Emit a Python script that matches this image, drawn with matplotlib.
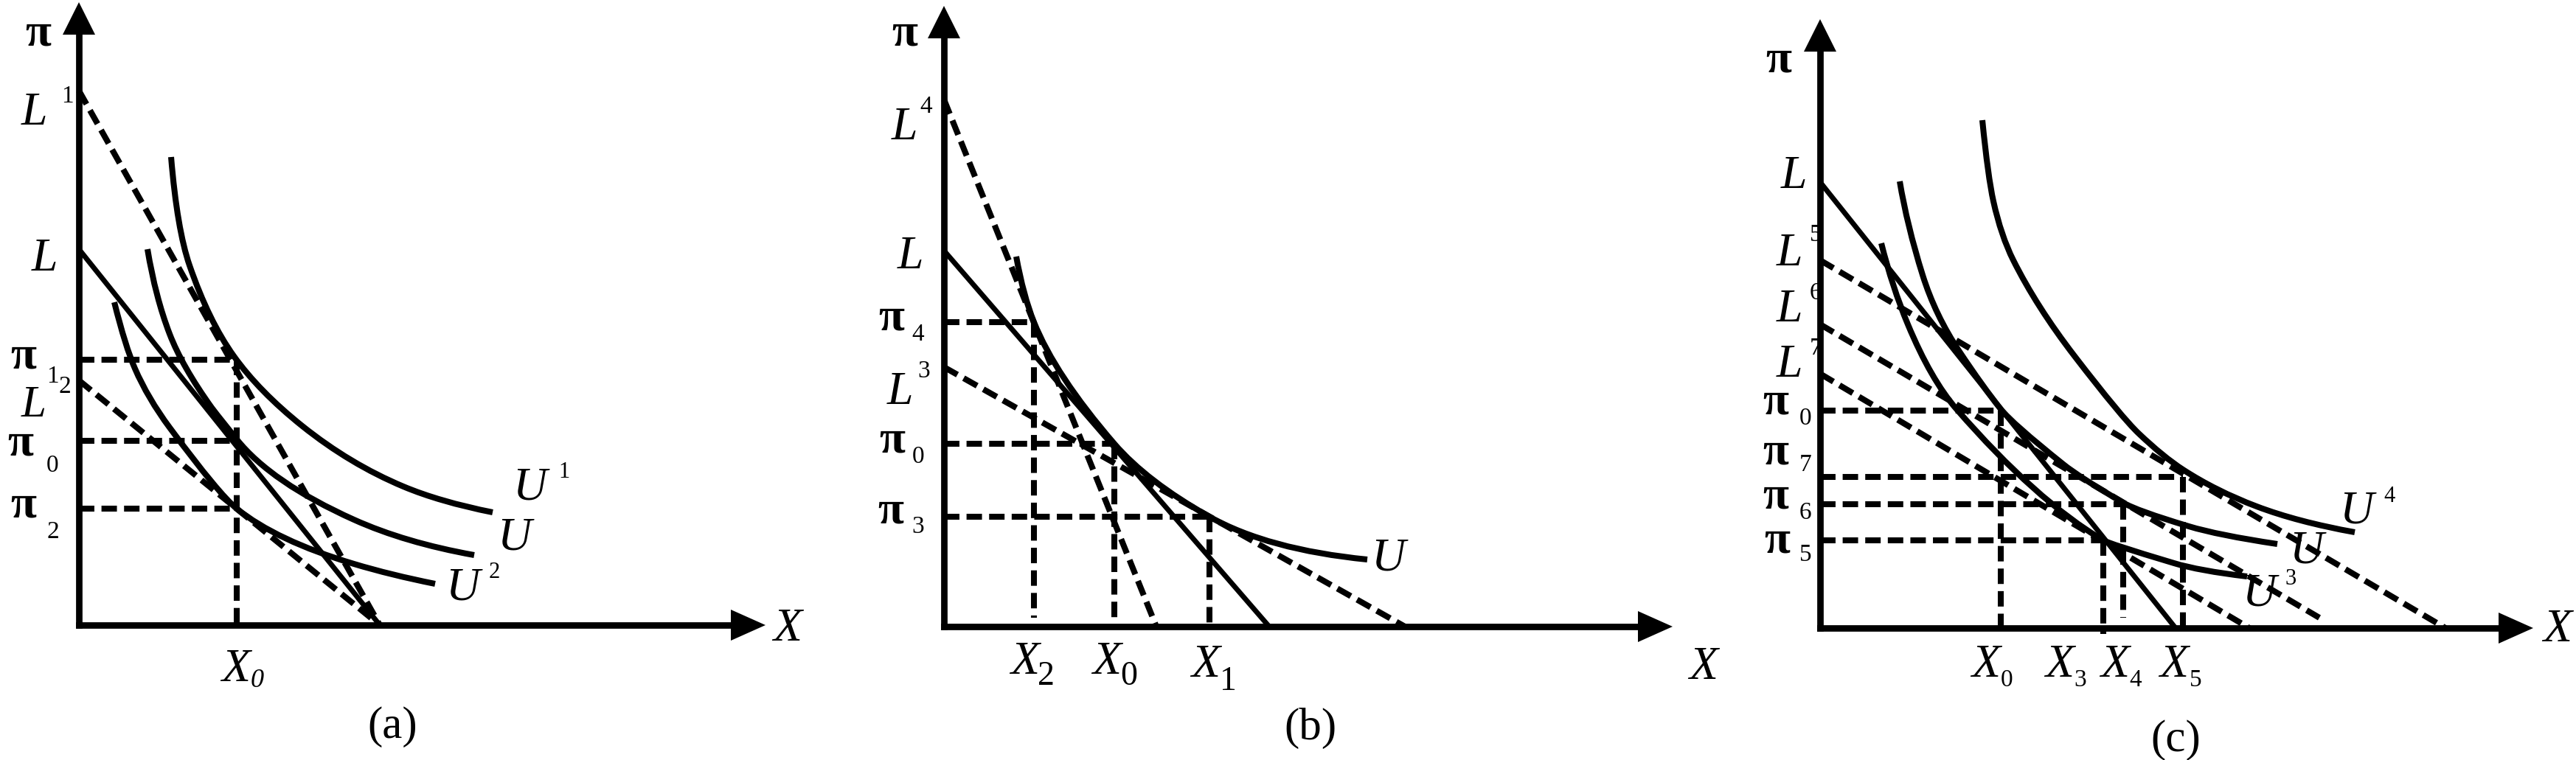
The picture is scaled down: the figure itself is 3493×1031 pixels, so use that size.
import matplotlib
matplotlib.use("Agg")
import matplotlib.pyplot as plt
from matplotlib.path import Path
from matplotlib.patches import PathPatch, Polygon

plt.rcParams['font.family'] = ['Liberation Serif', 'DejaVu Serif']

W, H = 3493, 1031

# ---------------- panel (a) ----------------
a_origin = (107, 848)
a_span = (0, 1150)
a_axis_tip = (931, 845)
a_solid = [[(0, 510), (408, 0)]]                      # L
a_dashed = [[(0, 725), (408, 0)], [(0, 332), (408, 0)]]   # L1, L2
a_x0 = 214
a_pi = [360, 250, 158]                                # pi1, pi0, pi2
a_curves = [
    [(125, 635, -12), (150, 488, -2.9), (210, 365, -1.4), (303, 270, -0.8), (440, 188, -0.42), (561, 153, -0.2)],   # U1
    [(93, 510, -6), (123, 395, -2.6), (180, 295, -1.4), (214, 252, -1.25), (373, 143, -0.45), (536, 95, -0.18)],   # U
    [(48, 438, -4), (76, 348, -2.3), (123, 268, -1.35), (214, 158, -0.81), (373, 83, -0.3), (483, 56, -0.2)],      # U2
]

# ---------------- panel (b) ----------------
b_origin = (1280, 850)
b_span = (1150, 2380)
b_axis_tip = (988, 842)
b_solid = [[(0, 510), (441, 0)]]                      # L
b_dashed = [[(0, 715), (288, 0)], [(0, 352), (625, 0)]]   # L4, L3
b_xs = [122, 231, 360]                                # X2, X0, X1
b_pi = [413, 248, 149]                                # pi4, pi0, pi3
b_vert_bottom = [12, 12, 0]
b_curves = [
    [(98, 502, -5.5), (122, 413, -2.5), (231, 248, -1.16), (360, 149, -0.563), (574, 91, -0.1)],   # U
]

# ---------------- panel (c) ----------------
c_origin = (2468, 852)
c_span = (2380, 3493)
c_axis_tip = (967, 826)
c_solid = [[(0, 605), (482, 0)]]                      # L
c_dashed = [[(0, 499), (848, 0)], [(0, 412), (677, 14)], [(0, 345), (582, 0)]]   # L5, L6, L7
c_xs = [245, 384, 411, 492]                           # X0, X3, X4, X5
c_pi = [295, 119, 168, 205]                           # pi0, pi5, pi6, pi7
c_vert_bottom = [0, -8, 14, 0]
c_curves = [
    [(220, 689, -10), (235, 579, -4.5), (262, 499, -2.0), (345, 369, -1.3), (432, 264, -0.95), (492, 215, -0.65), (592, 165, -0.38), (725, 130, -0.18)],  # U4
    [(108, 606, -6), (139, 479, -3.2), (189, 375, -1.5), (245, 297, -1.25), (330, 222, -0.8), (411, 170, -0.585), (500, 138, -0.3), (620, 114, -0.15)],  # U
    [(83, 522, -4), (119, 412, -2.4), (185, 297, -1.15), (384, 119, -0.593), (480, 88, -0.3), (579, 70, -0.12)],  # U3
]

# labels: (text, x, y, size, style, weight)
a_labels = [
    ('π', -55, 787, 46, 'normal', 'bold'),
    ('L', -61, 679, 46, 'italic', 'normal'), ('1', -16, 709, 24, 'normal', 'normal'),
    ('L', -47, 481, 46, 'italic', 'normal'),
    ('π', -75, 349, 46, 'normal', 'bold'), ('1', -36, 329, 24, 'normal', 'normal'),
    ('L', -61, 283, 44, 'italic', 'normal'), ('2', -19, 315, 24, 'normal', 'normal'),
    ('π', -79, 230, 46, 'normal', 'bold'), ('0', -36, 208, 24, 'normal', 'normal'),
    ('π', -75, 146, 46, 'normal', 'bold'), ('2', -35, 118, 24, 'normal', 'normal'),
    ('X', 213, -76, 46, 'italic', 'normal'), ('0', 242, -84, 26, 'italic', 'normal'),
    ('(a)', 425, -153, 44, 'normal', 'normal'),
    ('X', 961, -21, 46, 'italic', 'normal'),
    ('U', 611, 170, 46, 'italic', 'normal'), ('1', 658, 200, 22, 'normal', 'normal'),
    ('U', 590, 102, 46, 'italic', 'normal'),
    ('U', 520, 34, 46, 'italic', 'normal'), ('2', 563, 64, 22, 'normal', 'normal'),
]
b_labels = [
    ('π', -53, 789, 46, 'normal', 'bold'),
    ('L', -53, 661, 46, 'italic', 'normal'), ('4', -24, 697, 24, 'normal', 'normal'),
    ('L', -46, 486, 46, 'italic', 'normal'),
    ('π', -71, 402, 46, 'normal', 'bold'), ('4', -35, 388, 24, 'normal', 'normal'),
    ('L', -60, 302, 46, 'italic', 'normal'), ('3', -27, 338, 24, 'normal', 'normal'),
    ('π', -70, 236, 46, 'normal', 'bold'), ('0', -35, 222, 24, 'normal', 'normal'),
    ('π', -72, 141, 46, 'normal', 'bold'), ('3', -35, 127, 24, 'normal', 'normal'),
    ('X', 110, -64, 46, 'italic', 'normal'), ('2', 138, -79, 33, 'normal', 'normal'),
    ('X', 221, -64, 46, 'italic', 'normal'), ('0', 251, -79, 33, 'normal', 'normal'),
    ('X', 355, -68, 46, 'italic', 'normal'), ('1', 385, -86, 33, 'normal', 'normal'),
    ('X', 1030, -71, 46, 'italic', 'normal'),
    ('U', 602, 76, 46, 'italic', 'normal'),
    ('(b)', 497, -153, 44, 'normal', 'normal'),
]
c_labels = [
    ('π', -56, 754, 46, 'normal', 'bold'),
    ('L', -35, 597, 46, 'italic', 'normal'),
    ('L', -42, 492, 46, 'italic', 'normal'), ('5', -6, 525, 24, 'normal', 'normal'),
    ('L', -42, 416, 46, 'italic', 'normal'), ('6', -6, 446, 24, 'normal', 'normal'),
    ('L', -42, 341, 46, 'italic', 'normal'), ('7', -6, 371, 24, 'normal', 'normal'),
    ('π', -60, 291, 46, 'normal', 'bold'), ('0', -20, 276, 24, 'normal', 'normal'),
    ('π', -60, 222, 46, 'normal', 'bold'), ('7', -20, 213, 24, 'normal', 'normal'),
    ('π', -60, 163, 46, 'normal', 'bold'), ('6', -20, 148, 24, 'normal', 'normal'),
    ('π', -58, 103, 46, 'normal', 'bold'), ('5', -20, 91, 24, 'normal', 'normal'),
    ('X', 225, -66, 46, 'italic', 'normal'), ('0', 253, -79, 24, 'normal', 'normal'),
    ('X', 325, -66, 46, 'italic', 'normal'), ('3', 353, -79, 24, 'normal', 'normal'),
    ('X', 400, -66, 46, 'italic', 'normal'), ('4', 428, -79, 24, 'normal', 'normal'),
    ('X', 480, -66, 46, 'italic', 'normal'), ('5', 509, -79, 24, 'normal', 'normal'),
    ('X', 1000, -18, 46, 'italic', 'normal'),
    ('U', 727, 143, 46, 'italic', 'normal'), ('4', 772, 171, 22, 'normal', 'normal'),
    ('U', 659, 89, 46, 'italic', 'normal'),
    ('U', 595, 31, 46, 'italic', 'normal'), ('3', 638, 59, 22, 'normal', 'normal'),
    ('(c)', 482, -167, 44, 'normal', 'normal'),
]

AXIS_LW = 6.3
CURVE_LW = 5.8
LINE_LW = 5.0
DASH_LW = 5.8
DASH = (0, (2.6, 1.2))


def curve_path(anchors):
    # piecewise cubic through the anchors, tangent to the given slopes
    verts = [anchors[0][:2]]
    codes = [Path.MOVETO]
    for (x0, y0, s0), (x1, y1, s1) in zip(anchors[:-1], anchors[1:]):
        qx = (y1 - y0 + s0 * x0 - s1 * x1) / (s0 - s1)
        qy = y0 + s0 * (qx - x0)
        c1 = (x0 + 2 / 3 * (qx - x0), y0 + 2 / 3 * (qy - y0))
        c2 = (x1 + 2 / 3 * (qx - x1), y1 + 2 / 3 * (qy - y1))
        verts += [c1, c2, (x1, y1)]
        codes += [Path.CURVE4] * 3
    return Path(verts, codes)


def make_axes(fig, origin, span):
    ox, oy = origin
    x0, x1 = span
    ax = fig.add_axes([x0 / W, 0, (x1 - x0) / W, 1])
    ax.set_xlim(x0 - ox, x1 - ox)
    ax.set_ylim(oy - H, oy)
    ax.axis('off')
    return ax


def draw_frame(ax, tip):
    xt, yt = tip
    ax.plot([0, 0], [0, yt - 40], color='black', lw=AXIS_LW, solid_capstyle='projecting')
    ax.plot([0, xt - 40], [0, 0], color='black', lw=AXIS_LW, solid_capstyle='projecting')
    ax.add_patch(Polygon([(-22, yt - 44), (22, yt - 44), (0, yt)], closed=True, color='black', lw=0))
    ax.add_patch(Polygon([(xt - 47, -21), (xt - 47, 21), (xt, 0)], closed=True, color='black', lw=0))


def dashed(ax, xs, ys):
    ax.plot(xs, ys, color='black', lw=DASH_LW, linestyle=DASH, dash_capstyle='butt')


def draw_lines(ax, solid, dashed_lines):
    for seg in solid:
        xs, ys = zip(*seg)
        ax.plot(xs, ys, color='black', lw=LINE_LW, solid_capstyle='butt')
    for seg in dashed_lines:
        xs, ys = zip(*seg)
        dashed(ax, xs, ys)


def draw_guides(ax, xs, pis, bottoms):
    for x, p in zip(xs, pis):
        dashed(ax, [0, x], [p, p])
    # one vertical per x position, from the highest pi level down
    for x in sorted(set(xs)):
        top = max(p for xx, p in zip(xs, pis) if xx == x)
        bot = min(b for xx, b in zip(xs, bottoms) if xx == x)
        dashed(ax, [x, x], [top, bot])


def draw_curves(ax, curves):
    for anchors in curves:
        ax.add_patch(PathPatch(curve_path(anchors), fill=False, lw=CURVE_LW,
                               edgecolor='black', capstyle='butt'))


def draw_labels(ax, labels):
    for s, x, y, size, style, weight in labels:
        ax.text(x, y, s, fontsize=size, style=style, fontweight=weight,
                ha='center', va='baseline', clip_on=False)


fig = plt.figure(figsize=(W / 100, H / 100), dpi=100)
fig.patch.set_facecolor('white')

ax_a = make_axes(fig, a_origin, a_span)
draw_frame(ax_a, a_axis_tip)
draw_lines(ax_a, a_solid, a_dashed)
draw_guides(ax_a, [a_x0] * 3, a_pi, [0, 0, 0])
draw_curves(ax_a, a_curves)
draw_labels(ax_a, a_labels)

ax_b = make_axes(fig, b_origin, b_span)
draw_frame(ax_b, b_axis_tip)
draw_lines(ax_b, b_solid, b_dashed)
draw_guides(ax_b, b_xs, b_pi, b_vert_bottom)
draw_curves(ax_b, b_curves)
draw_labels(ax_b, b_labels)

ax_c = make_axes(fig, c_origin, c_span)
draw_frame(ax_c, c_axis_tip)
draw_lines(ax_c, c_solid, c_dashed)
draw_guides(ax_c, c_xs, c_pi, c_vert_bottom)
draw_curves(ax_c, c_curves)
draw_labels(ax_c, c_labels)

fig.savefig('out.png', dpi=100, facecolor='white')
